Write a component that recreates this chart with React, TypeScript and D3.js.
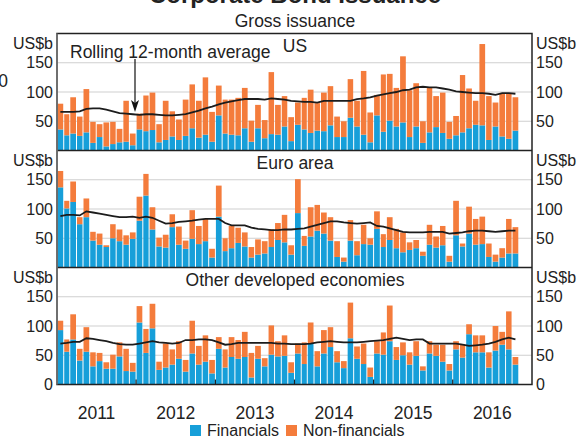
import React from 'react'
import * as d3 from 'd3'

// Monthly gross issuance, US$b, Jan 2011 – Oct 2016
const usFin = [36, 26, 29, 25, 31, 13, 23, 7, 11, 14, 15, 9, 36, 33, 35, 14, 18, 24, 18, 25, 38, 22, 27, 15, 60, 29, 27, 26, 38, 15, 38, 21, 28, 27, 41, 16, 44, 36, 30, 34, 33, 43, 23, 23, 56, 41, 27, 14, 60, 32, 51, 41, 48, 23, 41, 13, 31, 40, 30, 20, 26, 31, 38, 44, 43, 18, 41, 24, 20, 34]
const usNonFin = [44, 36, 62, 33, 74, 36, 22, 41, 38, 23, 70, 20, 27, 61, 64, 31, 67, 43, 35, 62, 75, 63, 98, 51, 51, 58, 60, 64, 69, 36, 40, 31, 106, 51, 52, 41, 38, 54, 74, 47, 66, 67, 35, 27, 66, 44, 109, 51, 35, 98, 80, 66, 113, 80, 74, 37, 77, 53, 69, 29, 33, 98, 68, 41, 139, 75, 41, 73, 77, 57]
const usAvg = [66, 66, 66, 67, 71, 72, 72, 70, 67, 64, 63, 62, 61, 62, 62, 61, 60, 60, 61, 62, 65, 68, 72, 75, 79, 82, 84, 86, 88, 88, 88, 87, 89, 88, 87, 85, 84, 83, 83, 82, 85, 85, 85, 85, 85, 88, 89, 91, 94, 96, 98, 100, 103, 104, 108, 109, 108, 108, 106, 104, 101, 100, 99, 98, 98, 97, 95, 98, 98, 97]

const euFin = [137, 101, 112, 74, 86, 46, 39, 35, 50, 45, 39, 49, 80, 123, 65, 36, 34, 69, 39, 32, 49, 40, 45, 17, 87, 28, 33, 42, 36, 17, 22, 24, 35, 47, 43, 22, 93, 37, 53, 63, 58, 46, 18, 10, 46, 21, 40, 39, 66, 35, 47, 33, 26, 30, 33, 20, 39, 34, 38, 10, 55, 36, 58, 39, 40, 18, 10, 17, 24, 24]
const euNonFin = [28, 13, 35, 12, 32, 15, 19, 3, 24, 20, 16, 11, 41, 37, 38, 15, 22, 22, 31, 14, 49, 31, 38, 15, 53, 22, 38, 26, 24, 18, 26, 21, 30, 29, 47, 16, 58, 17, 50, 44, 36, 40, 27, 7, 35, 24, 33, 11, 30, 22, 39, 33, 34, 13, 14, 7, 34, 19, 33, 10, 59, 5, 46, 44, 47, 23, 12, 16, 59, 45]
const euAvg = [88, 90, 90, 89, 96, 94, 92, 90, 88, 86, 86, 87, 85, 87, 85, 80, 75, 76, 78, 79, 80, 82, 83, 83, 83, 76, 72, 72, 72, 68, 66, 65, 64, 64, 65, 65, 66, 67, 70, 73, 76, 79, 79, 77, 76, 75, 76, 77, 71, 70, 67, 64, 61, 60, 60, 60, 61, 61, 61, 58, 59, 60, 62, 63, 63, 62, 61, 62, 63, 63]

const otFin = [93, 56, 77, 41, 56, 31, 40, 27, 27, 48, 23, 22, 106, 54, 96, 25, 29, 34, 44, 22, 53, 34, 39, 19, 61, 29, 47, 44, 47, 12, 44, 31, 51, 48, 49, 20, 53, 35, 70, 31, 53, 64, 38, 28, 79, 44, 35, 13, 53, 51, 74, 42, 50, 34, 49, 24, 53, 49, 39, 24, 60, 46, 86, 55, 55, 29, 58, 68, 60, 34]
const otNonFin = [16, 21, 43, 20, 42, 24, 14, 11, 24, 24, 38, 15, 28, 41, 42, 14, 41, 26, 30, 20, 56, 32, 45, 23, 20, 31, 34, 32, 43, 42, 22, 14, 50, 26, 35, 18, 17, 37, 36, 26, 40, 34, 19, 12, 61, 21, 35, 16, 21, 38, 61, 22, 22, 21, 25, 7, 21, 19, 29, 11, 14, 22, 17, 29, 29, 26, 42, 22, 65, 13]
const otAvg = [70, 71, 73, 73, 79, 78, 76, 74, 71, 69, 68, 68, 70, 72, 74, 72, 71, 70, 71, 76, 76, 77, 77, 76, 72, 68, 69, 71, 71, 71, 71, 71, 71, 70, 70, 69, 69, 69, 70, 72, 73, 74, 73, 72, 72, 72, 73, 74, 75, 76, 78, 80, 78, 76, 77, 77, 70, 70, 70, 70, 70, 68, 66, 67, 68, 70, 73, 77, 80, 77]

const panelNames = ['US', 'Euro area', 'Other developed economies']
const yearLabels = ['2011', '2012', '2013', '2014', '2015', '2016']
const yTicks = [50, 100, 150]

const W = 582
const H = 437
const left = 57
const right = 532
const panelH = 117
const panelTops = [33.5, 150.5, 267.5]
const blue = '#179fd9'
const orange = '#f47c3c'
const font = '"Liberation Sans", Arial, sans-serif'
const txt = '#222'
const big = 17.5
const small = 16

const panels = [
  { name: panelNames[0], fin: usFin, nonFin: usNonFin, avg: usAvg },
  { name: panelNames[1], fin: euFin, nonFin: euNonFin, avg: euAvg },
  { name: panelNames[2], fin: otFin, nonFin: otNonFin, avg: otAvg },
]

const months = d3.timeMonth.range(new Date(2011, 0, 1), new Date(2016, 10, 1))

const x = d3
  .scaleTime()
  .domain([new Date(2011, 0, 1), new Date(2017, 0, 1)])
  .range([left, right])

const years = yearLabels.map((y) => new Date(+y, 0, 1))

const App = () => {
  return (
    <svg
      width={W}
      height={H}
      style={{ position: 'absolute', left: 0, top: 0, background: '#fff' }}
      fontFamily={font}
    >
      <text x={295} y={3} textAnchor="middle" fontSize={24} fontWeight="bold" fill={txt}>
        Corporate Bond Issuance
      </text>
      <text x={295} y={27} textAnchor="middle" fontSize={big} fill={txt}>
        Gross issuance
      </text>
      <text x={8} y={81} textAnchor="end" dy="0.35em" fontSize={big} fill={txt}>
        0
      </text>

      {panels.map((p, pi) => {
        const top = panelTops[pi]
        const y = d3.scaleLinear().domain([0, 200]).range([top + panelH, top])
        const line = d3
          .line<number>()
          .x((_, i) => {
            const m = months[i]
            return (x(m) + x(d3.timeMonth.offset(m, 1))) / 2
          })
          .y((d) => y(d))
        return (
          <g key={p.name}>
            {yTicks.map((t) => (
              <line key={t} x1={left} x2={right} y1={y(t)} y2={y(t)} stroke="#cfcfcf" strokeWidth={1.2} />
            ))}
            {months.map((m, i) => {
              const x0 = x(m)
              const x1 = x(d3.timeMonth.offset(m, 1))
              const w = x1 - x0 - 1
              return (
                <g key={i}>
                  <rect x={x0 + 0.5} y={y(p.fin[i])} width={w} height={y(0) - y(p.fin[i])} fill={blue} />
                  <rect
                    x={x0 + 0.5}
                    y={y(p.fin[i] + p.nonFin[i])}
                    width={w}
                    height={y(p.fin[i]) - y(p.fin[i] + p.nonFin[i])}
                    fill={orange}
                  />
                </g>
              )
            })}
            <path d={line(p.avg) || ''} fill="none" stroke="#1c1c1c" strokeWidth={1.8} />
            <text x={295} y={top + 12} dy="0.35em" textAnchor="middle" fontSize={big} fill={txt}>
              {p.name}
            </text>
            <text x={53} y={top + 10} dy="0.35em" textAnchor="end" fontSize={small} fill={txt}>
              US$b
            </text>
            <text x={536} y={top + 10} dy="0.35em" textAnchor="start" fontSize={small} fill={txt}>
              US$b
            </text>
            {yTicks.map((t) => (
              <g key={'l' + t}>
                <text x={53} y={y(t)} dy="0.35em" textAnchor="end" fontSize={small} fill={txt}>
                  {t}
                </text>
                <text x={536} y={y(t)} dy="0.35em" textAnchor="start" fontSize={small} fill={txt}>
                  {t}
                </text>
              </g>
            ))}
            {pi === 2 && (
              <g>
                <text x={53} y={y(0)} dy="0.35em" textAnchor="end" fontSize={small} fill={txt}>
                  0
                </text>
                <text x={536} y={y(0)} dy="0.35em" textAnchor="start" fontSize={small} fill={txt}>
                  0
                </text>
                {years.slice(1).map((d, i) => (
                  <line key={i} x1={x(d)} x2={x(d)} y1={y(0)} y2={y(0) - 5} stroke="#222" strokeWidth={1.2} />
                ))}
              </g>
            )}
          </g>
        )
      })}

      {/* frame */}
      <rect x={left} y={panelTops[0]} width={right - left} height={panelH * 3} fill="none" stroke="#222" strokeWidth={1.5} />
      <line x1={left} x2={right} y1={panelTops[1]} y2={panelTops[1]} stroke="#222" strokeWidth={1.5} />
      <line x1={left} x2={right} y1={panelTops[2]} y2={panelTops[2]} stroke="#222" strokeWidth={1.5} />
      <line x1={left} x2={left} y1={panelTops[0]} y2={panelTops[0] + panelH * 3} stroke="#777" strokeWidth={1.5} />

      {/* annotation */}
      <text x={70} y={52} dy="0.35em" fontSize={big} fill={txt}>
        Rolling 12-month average
      </text>
      <line x1={135} x2={135} y1={59} y2={106} stroke="#111" strokeWidth={1.2} />
      <path d="M131,100 L135,112 L139,100 L135,103 Z" fill="#111" />

      {years.map((d, i) => (
        <text
          key={i}
          x={(x(d) + x(d3.timeYear.offset(d, 1))) / 2}
          y={413}
          dy="0.35em"
          textAnchor="middle"
          fontSize={big}
          fill={txt}
        >
          {yearLabels[i]}
        </text>
      ))}

      <rect x={190} y={425} width={11} height={11} fill={blue} />
      <text x={207} y={430} dy="0.35em" fontSize={small} fill={txt}>
        Financials
      </text>
      <rect x={286} y={425} width={11} height={11} fill={orange} />
      <text x={303} y={430} dy="0.35em" fontSize={small} fill={txt}>
        Non-financials
      </text>
    </svg>
  )
}

export default App
